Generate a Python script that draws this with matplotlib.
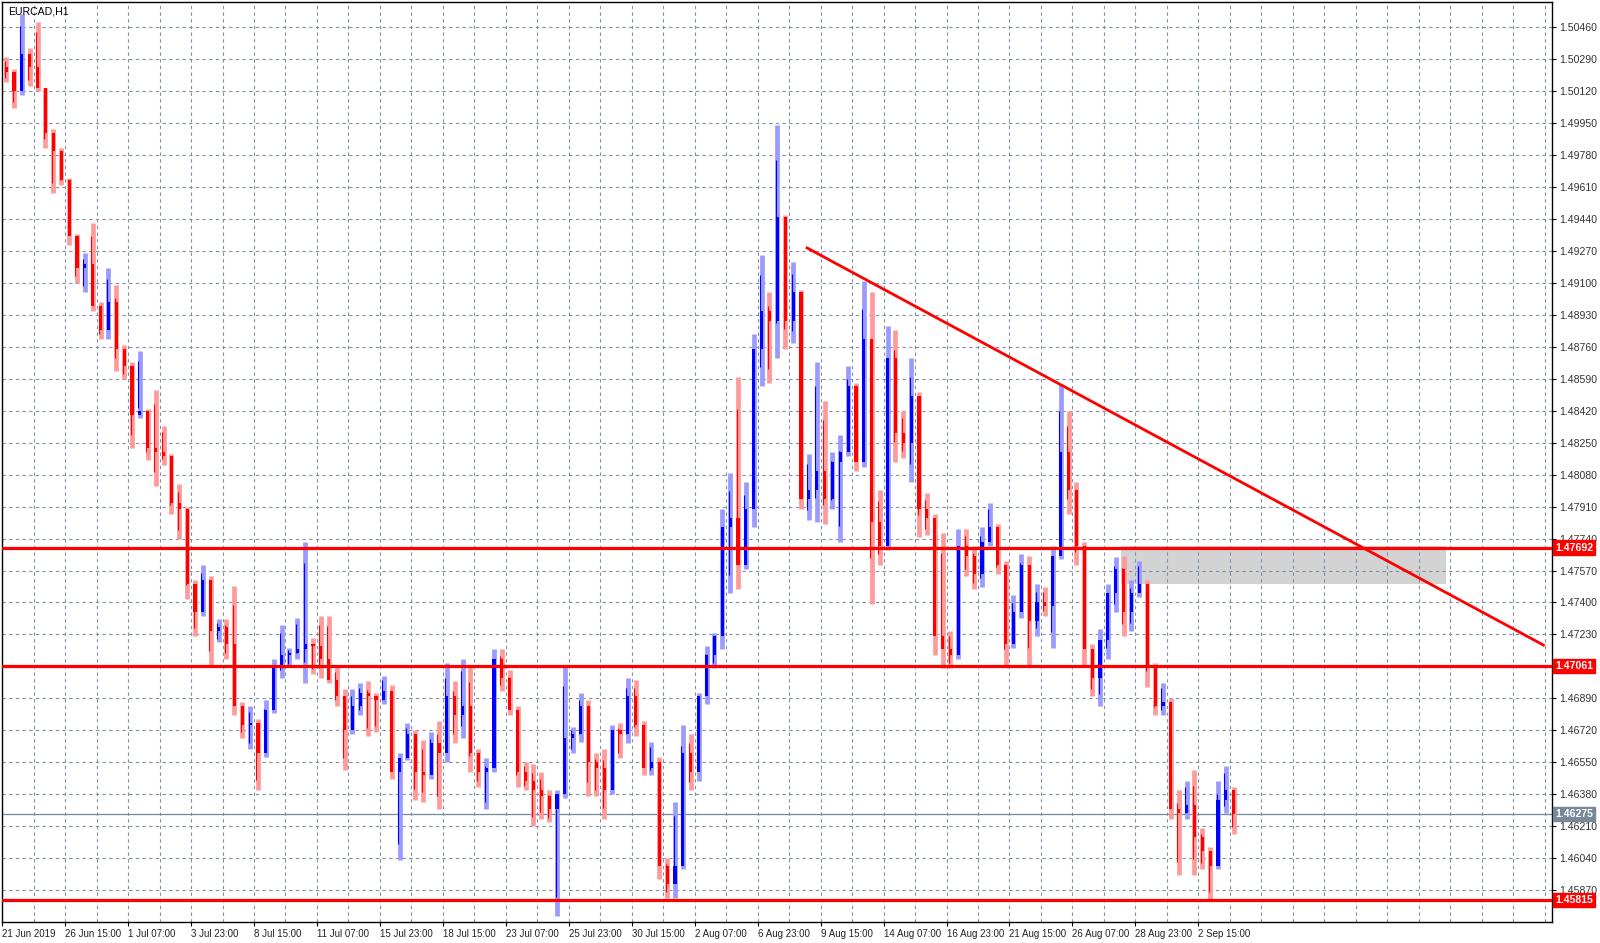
import numpy as np
import matplotlib.pyplot as plt
from matplotlib.patches import Rectangle

# EURCAD H1, candles regrouped by 8 hours
symbol = 'EURCAD,H1'
bars_per_candle = 8
first_open = 1.5025

highs = [1.5030, 1.5024, 1.5053, 1.5035, 1.5049, 1.5014, 1.4992, 1.4982, 1.4966, 1.4936,
         1.4926, 1.4942, 1.4900, 1.4918, 1.4909, 1.4877, 1.4868, 1.4874, 1.4843, 1.4853,
         1.4834, 1.4819, 1.4803, 1.4791, 1.4752, 1.4760, 1.4754, 1.4731, 1.4731, 1.4749,
         1.4687, 1.4685, 1.4678, 1.4688, 1.4710, 1.4728, 1.4716, 1.4732, 1.4772, 1.4721,
         1.4733, 1.4733, 1.4706, 1.4694, 1.4694, 1.4697, 1.4698, 1.4692, 1.4701, 1.4696,
         1.4660, 1.4676, 1.4672, 1.4667, 1.4671, 1.4677, 1.4708, 1.4698, 1.4710, 1.4706,
         1.4662, 1.4657, 1.4715, 1.4715, 1.4704, 1.4685, 1.4655, 1.4654, 1.4650, 1.4640,
         1.4640, 1.4706, 1.4674, 1.4692, 1.4688, 1.4660, 1.4662, 1.4675, 1.4676, 1.4700,
         1.4699, 1.4677, 1.4666, 1.4658, 1.4604, 1.4634, 1.4675, 1.4670, 1.4692, 1.4717,
         1.4724, 1.4790, 1.4809, 1.4860, 1.4804, 1.4883, 1.4925, 1.4905, 1.4994, 1.4946,
         1.4921, 1.4906, 1.4819, 1.4868, 1.4847, 1.4820, 1.4829, 1.4866, 1.4857, 1.4911,
         1.4905, 1.4800, 1.4887, 1.4885, 1.4842, 1.4870, 1.4852, 1.4798, 1.4787, 1.4777,
         1.4725, 1.4779, 1.4779, 1.4770, 1.4780, 1.4793, 1.4782, 1.4762, 1.4744, 1.4766,
         1.4765, 1.4750, 1.4748, 1.4770, 1.4856, 1.4842, 1.4804, 1.4772, 1.4718, 1.4726,
         1.4750, 1.4764, 1.4765, 1.4752, 1.4762, 1.4752, 1.4708, 1.4697, 1.4689, 1.4640,
         1.4645, 1.4651, 1.4620, 1.4610, 1.4645, 1.4653, 1.4642]

lows = [1.5017, 1.5003, 1.5010, 1.5015, 1.5012, 1.4982, 1.4958, 1.4962, 1.4930, 1.4910,
        1.4905, 1.4895, 1.4880, 1.4880, 1.4863, 1.4859, 1.4822, 1.4838, 1.4816, 1.4802,
        1.4813, 1.4787, 1.4774, 1.4742, 1.4722, 1.4733, 1.4707, 1.4719, 1.4710, 1.4680,
        1.4668, 1.4662, 1.4640, 1.4658, 1.4681, 1.4700, 1.4706, 1.4710, 1.4697, 1.4702,
        1.4700, 1.4697, 1.4685, 1.4651, 1.4670, 1.4680, 1.4669, 1.4671, 1.4686, 1.4646,
        1.4603, 1.4656, 1.4635, 1.4634, 1.4646, 1.4630, 1.4655, 1.4665, 1.4668, 1.4650,
        1.4642, 1.4630, 1.4650, 1.4693, 1.4680, 1.4642, 1.4640, 1.4621, 1.4625, 1.4623,
        1.4573, 1.4636, 1.4660, 1.4666, 1.4637, 1.4637, 1.4625, 1.4638, 1.4657, 1.4665,
        1.4669, 1.4648, 1.4648, 1.4593, 1.4583, 1.4583, 1.4598, 1.4640, 1.4645, 1.4686,
        1.4705, 1.4715, 1.4745, 1.4747, 1.4758, 1.4780, 1.4855, 1.4857, 1.4870, 1.4875,
        1.4878, 1.4790, 1.4784, 1.4783, 1.4782, 1.4790, 1.4772, 1.4818, 1.4810, 1.4812,
        1.4739, 1.4760, 1.4768, 1.4815, 1.4817, 1.4804, 1.4775, 1.4776, 1.4712, 1.4705,
        1.4705, 1.4710, 1.4754, 1.4747, 1.4748, 1.4770, 1.4755, 1.4707, 1.4716, 1.4732,
        1.4707, 1.4722, 1.4733, 1.4716, 1.4763, 1.4787, 1.4760, 1.4706, 1.4690, 1.4685,
        1.4710, 1.4735, 1.4722, 1.4725, 1.4743, 1.4695, 1.4680, 1.4680, 1.4625, 1.4595,
        1.4625, 1.4595, 1.4598, 1.4582, 1.4598, 1.4628, 1.4617]

closes = [1.5022, 1.5012, 1.5032, 1.5025, 1.5014, 1.4990, 1.4980, 1.4965, 1.4935, 1.4918,
          1.4920, 1.4898, 1.4885, 1.4900, 1.4875, 1.4866, 1.4840, 1.4842, 1.4822, 1.4820,
          1.4818, 1.4793, 1.4790, 1.4750, 1.4735, 1.4752, 1.4725, 1.4727, 1.4718, 1.4685,
          1.4675, 1.4676, 1.4660, 1.4683, 1.4705, 1.4712, 1.4713, 1.4715, 1.4718, 1.4717,
          1.4710, 1.4699, 1.4690, 1.4672, 1.4685, 1.4692, 1.4690, 1.4688, 1.4693, 1.4650,
          1.4657, 1.4670, 1.4650, 1.4648, 1.4665, 1.4660, 1.4690, 1.4680, 1.4685, 1.4660,
          1.4650, 1.4652, 1.4710, 1.4700, 1.4683, 1.4650, 1.4645, 1.4640, 1.4637, 1.4630,
          1.4638, 1.4668, 1.4670, 1.4685, 1.4655, 1.4652, 1.4640, 1.4672, 1.4670, 1.4690,
          1.4675, 1.4652, 1.4655, 1.4600, 1.4590, 1.4600, 1.4660, 1.4650, 1.4690, 1.4712,
          1.4722, 1.4780, 1.4785, 1.4760, 1.4790, 1.4875, 1.4895, 1.4890, 1.4945, 1.4890,
          1.4905, 1.4795, 1.4800, 1.4810, 1.4795, 1.4815, 1.4820, 1.4855, 1.4815, 1.4880,
          1.4783, 1.4770, 1.4870, 1.4830, 1.4825, 1.4850, 1.4790, 1.4785, 1.4722, 1.4715,
          1.4712, 1.4770, 1.4765, 1.4755, 1.4772, 1.4780, 1.4760, 1.4718, 1.4735, 1.4760,
          1.4730, 1.4740, 1.4738, 1.4765, 1.4820, 1.4800, 1.4770, 1.4715, 1.4700, 1.4720,
          1.4745, 1.4758, 1.4735, 1.4745, 1.4750, 1.4705, 1.4685, 1.4687, 1.4630, 1.4628,
          1.4632, 1.4615, 1.4608, 1.4600, 1.4635, 1.4640, 1.46275]

date_labels = ['21 Jun 2019', '26 Jun 15:00', '1 Jul 07:00', '3 Jul 23:00', '8 Jul 15:00',
               '11 Jul 07:00', '15 Jul 23:00', '18 Jul 15:00', '23 Jul 07:00', '25 Jul 23:00',
               '30 Jul 15:00', '2 Aug 07:00', '6 Aug 23:00', '9 Aug 15:00', '14 Aug 07:00',
               '16 Aug 23:00', '21 Aug 15:00', '26 Aug 07:00', '28 Aug 23:00', '2 Sep 15:00']
bars_per_label = 64

levels = [1.47692, 1.47061, 1.45815]
last_price = 1.46275

# trend line and grey zone (bar index, price)
trend_x = [817, 1568]
trend_y = [1.4929, 1.4717]
zone_x = [1137, 1468]
zone_y = [1.4750, 1.4770]

grid_base = 1.4587
grid_step = 0.0017

plt.rcParams['font.family'] = ['Liberation Sans', 'DejaVu Sans']

fig = plt.figure(figsize=(16, 9.43), dpi=100)
W, H = 1600, 943
ax = fig.add_axes([2 / W, (H - 922) / H, 1550 / W, 920 / H])
ax.set_xlim(-0.2, 1575.5)
ax.set_ylim(1.4570, 1.50595)
ax.set_axisbelow(True)

# candles
o = np.array([first_open] + closes[:-1])
c = np.array(closes)
hi = np.array(highs)
lo = np.array(lows)
x = np.arange(len(c)) * bars_per_candle + bars_per_candle / 2
up = c >= o
wick_cols = np.where(up, '#9a9aff', '#ff9a9a')
body_cols = np.where(up, '#0000ff', '#ff0000')
ax.vlines(x, lo, hi, colors=wick_cols, lw=3.4, zorder=2)
ax.vlines(x - 1.5, lo + (hi - lo) * 0.15, hi - (hi - lo) * 0.15, colors=body_cols, lw=0.8, zorder=2.1)
ax.bar(x, np.maximum(np.abs(c - o), 0.00008), bottom=np.minimum(o, c), width=3.2,
       color=body_cols, zorder=2.2)

# zone and lines
ax.add_patch(Rectangle((zone_x[0], zone_y[0]), zone_x[1] - zone_x[0], zone_y[1] - zone_y[0],
                       facecolor='#d3d3d3', edgecolor='none', zorder=0.3))
for lv in levels:
    ax.axhline(lv, color='#ff0000', lw=2.3, zorder=3)
ax.axhline(last_price, color='#778899', lw=0.9, zorder=1.5)
ax.plot(trend_x, trend_y, color='#ff0000', lw=2.0, zorder=3, solid_capstyle='butt')

# grid and axes
yt = [grid_base + k * grid_step for k in range(28)]
ax.set_yticks(yt)
# the 1.47060 label sits under the red 1.47061 box
ax.set_yticklabels(['' if abs(v - 1.4706) < 1e-6 else '%.5f' % v for v in yt])
ax.yaxis.tick_right()
ax.set_xticks([k * bars_per_label for k in range(len(date_labels))])
ax.set_xticklabels(date_labels, ha='left')
ax.set_xticks(np.arange(32, 1575, 32), minor=True)
ax.tick_params(axis='y', which='major', labelsize=7.6, length=3, width=0.8,
               colors='#000000', labelcolor='#333333', pad=2)
ax.tick_params(axis='x', which='major', labelsize=7.0, length=3, width=0.8,
               colors='#000000', labelcolor='#222222', pad=2)
ax.tick_params(axis='x', which='minor', length=0)
ax.grid(True, which='both', linestyle=(0, (3, 3)), color='#7f90a2', lw=0.8)
for s in ax.spines.values():
    s.set_color('black')
    s.set_linewidth(1.0)

ax.text(0.004, 0.995, symbol, transform=ax.transAxes, va='top', ha='left', fontsize=7.6)

tr = ax.get_yaxis_transform()
for lv in levels:
    ax.text(1.002, lv, '%.5f' % lv, transform=tr, va='center', ha='left', fontsize=7.6,
            color='white', fontweight='bold', zorder=6, clip_on=False,
            bbox=dict(boxstyle='square,pad=0.2', fc='#ff0000', ec='#ff0000'))
ax.text(1.002, last_price, '%.5f' % last_price, transform=tr, va='center', ha='left',
        fontsize=7.6, color='white', fontweight='bold', zorder=6, clip_on=False,
        bbox=dict(boxstyle='square,pad=0.2', fc='#778899', ec='#778899'))

fig.savefig('out.png', dpi=100)
